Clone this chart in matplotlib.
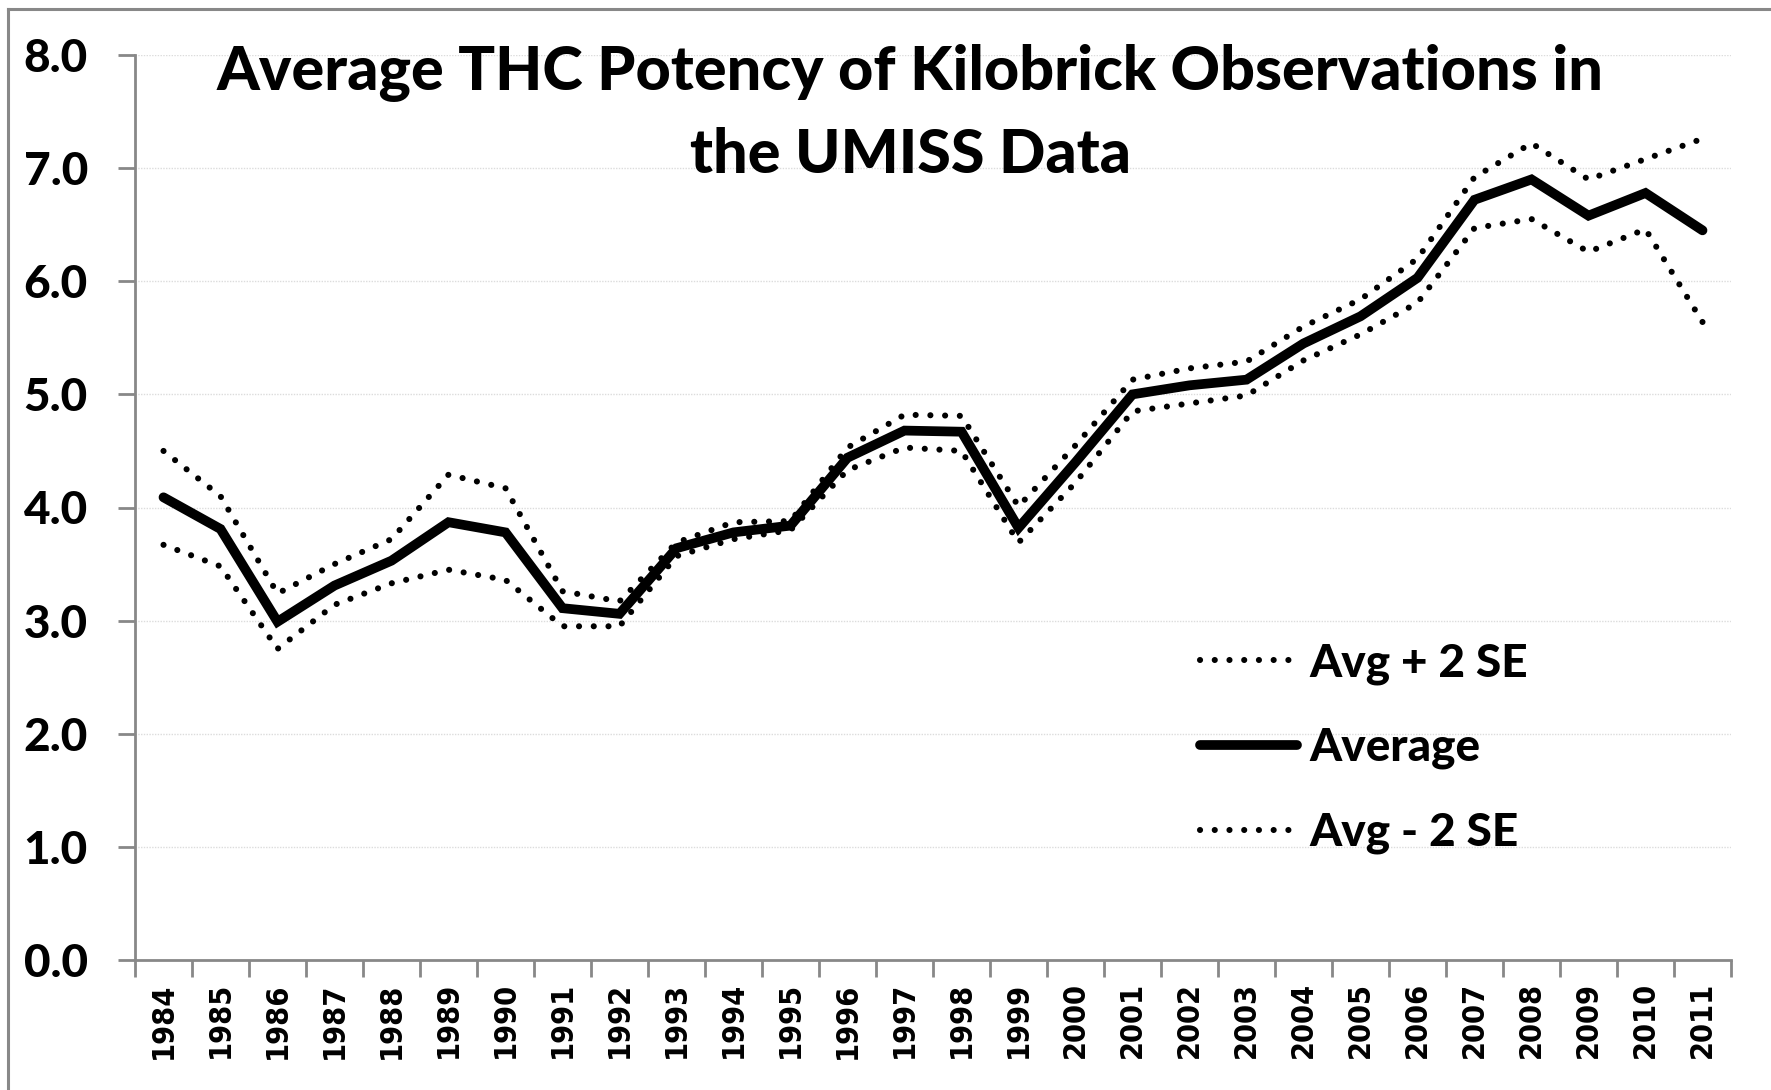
import matplotlib
matplotlib.use("Agg")
import matplotlib.pyplot as plt
from matplotlib.lines import Line2D

years = [str(y) for y in range(1984, 2012)]
average = [4.09, 3.81, 2.99, 3.31, 3.53, 3.87, 3.78, 3.11, 3.06, 3.64, 3.78, 3.84,
           4.44, 4.68, 4.67, 3.82, 4.40, 5.00, 5.08, 5.13, 5.45, 5.69, 6.03, 6.72,
           6.90, 6.58, 6.78, 6.45]
upper = [4.50, 4.10, 3.24, 3.50, 3.72, 4.29, 4.17, 3.26, 3.17, 3.69, 3.87, 3.88,
         4.53, 4.82, 4.81, 4.01, 4.55, 5.13, 5.23, 5.29, 5.60, 5.84, 6.20, 6.92,
         7.22, 6.90, 7.08, 7.26]
lower = [3.67, 3.48, 2.75, 3.14, 3.33, 3.45, 3.36, 2.95, 2.95, 3.57, 3.72, 3.80,
         4.33, 4.53, 4.50, 3.69, 4.22, 4.85, 4.92, 4.99, 5.30, 5.53, 5.81, 6.47,
         6.55, 6.26, 6.46, 5.64]
yticks = [0, 1, 2, 3, 4, 5, 6, 7, 8]
title = "Average THC Potency of Kilobrick Observations in\nthe UMISS Data"

W, H = 1771, 1090
fig = plt.figure(figsize=(W / 100, H / 100), dpi=100)
ax = fig.add_axes([135 / W, 1 - 960 / H, (1731 - 135) / W, (960 - 55) / H])

x = list(range(len(years)))
DOT_LS = (0, (0.01, 2.4))
DOT_LW = 4.4
dot = dict(color="black", lw=DOT_LW, linestyle=DOT_LS, dash_capstyle="round")
ax.plot(x, upper, label="Avg + 2 SE", **dot)
ax.plot(x, average, color="black", lw=7, solid_capstyle="round",
        solid_joinstyle="miter", label="Average")
ax.plot(x, lower, label="Avg - 2 SE", **dot)

ax.set_xlim(-0.5, len(years) - 0.5)
ax.set_ylim(0, 8)
ax.set_yticks(yticks)
ax.set_yticklabels([f"{v:.1f}" for v in yticks])
ax.yaxis.grid(True, color="#dcdcdc", lw=1.0, linestyle=(0, (1, 1)))
ax.set_axisbelow(True)

ax.set_xticks([i - 0.5 for i in range(len(years) + 1)], minor=False)
ax.set_xticklabels([""] * (len(years) + 1))
ax.set_xticks(x, minor=True)
ax.set_xticklabels(years, minor=True, rotation=90, fontsize=22,
                   fontweight="bold", family="DejaVu Sans", fontstretch="condensed")
ax.tick_params(axis="x", which="minor", length=0, pad=16)
ax.tick_params(axis="x", which="major", length=12, width=2, color="#888888", direction="out")
ax.tick_params(axis="y", length=12, width=2, color="#888888", direction="out", pad=22)
for lab in ax.get_yticklabels():
    lab.set_fontfamily("Lato")
    lab.set_fontweight("black")
    lab.set_fontsize(33)

for s in ["top", "right"]:
    ax.spines[s].set_visible(False)
for s in ["left", "bottom"]:
    ax.spines[s].set_color("#888888")
    ax.spines[s].set_linewidth(2)

fig.text(910 / W, 1 - 44 / H, title, ha="center", va="top", family="Lato",
         fontweight="black", fontsize=44, linespacing=1.55)

handles = [
    Line2D([], [], color="black", lw=DOT_LW, linestyle=DOT_LS, dash_capstyle="round"),
    Line2D([], [], color="black", lw=7, solid_capstyle="round"),
    Line2D([], [], color="black", lw=DOT_LW, linestyle=DOT_LS, dash_capstyle="round"),
]
leg = ax.legend(handles, ["Avg + 2 SE", "Average", "Avg - 2 SE"], loc="upper left",
                bbox_to_anchor=(1159 / W, 1 - 601 / H), bbox_transform=fig.transFigure,
                frameon=False, handlelength=2.1, handletextpad=0.28, labelspacing=0.92,
                prop=dict(family="Lato", weight="black", size=33))

# chart border (top and left visible)
fig.add_artist(Line2D([8 / W, 8 / W], [0, 1 - 9 / H], color="#888888", lw=2.2,
                      transform=fig.transFigure))
fig.add_artist(Line2D([8 / W, 1], [1 - 9 / H, 1 - 9 / H], color="#888888", lw=2.2,
                      transform=fig.transFigure))

fig.savefig("out.png", dpi=100)
